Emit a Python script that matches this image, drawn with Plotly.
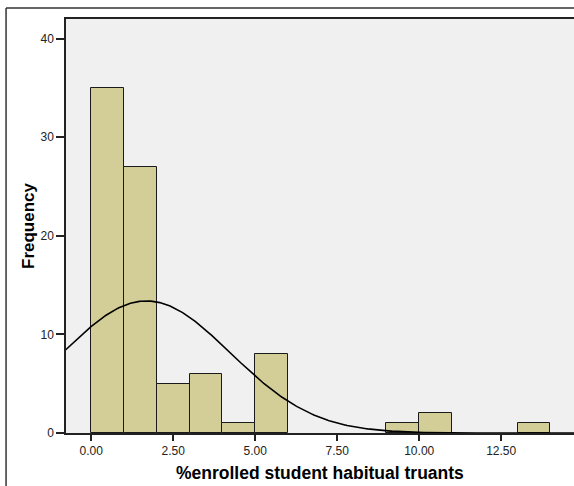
import numpy as np
import plotly.graph_objects as go

# Histogram data (bin width 1)
bin_starts = [0, 1, 2, 3, 4, 5, 9, 10, 13]
counts = [35, 27, 5, 6, 1, 8, 1, 2, 1]
bin_width = 1.0

# Fitted normal curve parameters (as reported by the chart)
curve_mean = 1.68
curve_sd = 2.56
n_total = sum(counts)

x_tick_vals = [0, 2.5, 5, 7.5, 10, 12.5]
x_tick_text = ["0.00", "2.50", "5.00", "7.50", "10.00", "12.50"]
y_tick_vals = [0, 10, 20, 30, 40]

x_title = "%enrolled student habitual truants"
y_title = "Frequency"

bar_x = [s + bin_width / 2 for s in bin_starts]

cx = np.linspace(-0.8, 14.8, 400)
cy = n_total * bin_width / (curve_sd * np.sqrt(2 * np.pi)) * np.exp(-((cx - curve_mean) ** 2) / (2 * curve_sd ** 2))

fig = go.Figure()
fig.add_trace(go.Bar(
    x=bar_x, y=counts, width=bin_width,
    marker=dict(color="#D3CE98", line=dict(color="#1a1a1a", width=1)),
    hoverinfo="x+y",
))
fig.add_trace(go.Scatter(
    x=cx, y=cy, mode="lines",
    line=dict(color="black", width=1.6),
))

font_family = "Liberation Sans, Arial, sans-serif"

fig.update_layout(
    width=574, height=486,
    margin=dict(l=66, r=0, t=19, b=53),
    paper_bgcolor="white",
    plot_bgcolor="#F0F0F0",
    showlegend=False,
    bargap=0,
    font=dict(family=font_family, size=12, color="#222"),
    xaxis=dict(
        range=[-0.77, 14.72],
        tickvals=x_tick_vals, ticktext=x_tick_text,
        ticks="outside", ticklen=6, tickwidth=1.5, tickcolor="#222",
        showgrid=False, zeroline=False,
        showline=True, linecolor="#222", linewidth=1.5, mirror=True,
        tickfont=dict(size=12, color="#222"),
    ),
    yaxis=dict(
        range=[0, 42],
        tickvals=y_tick_vals,
        ticks="outside", ticklen=8, tickwidth=1.5, tickcolor="#222",
        showgrid=False, zeroline=False,
        showline=True, linecolor="#222", linewidth=1.5, mirror=False,
        tickfont=dict(size=12, color="#222"),
    ),
    annotations=[
        dict(text="<b>" + x_title + "</b>", xref="paper", yref="paper",
             x=0.5, y=-0.0966, xanchor="center", yanchor="middle", showarrow=False,
             font=dict(size=17.5, color="black", family=font_family)),
        dict(text="<b>" + y_title + "</b>", xref="paper", yref="paper",
             x=-0.0748, y=0.5, xanchor="center", yanchor="middle", showarrow=False,
             textangle=-90,
             font=dict(size=17, color="black", family=font_family)),
    ],
    shapes=[
        dict(type="line", xref="paper", yref="paper",
             x0=-0.118, x1=1.2, y0=1.0266, y1=1.0266,
             line=dict(color="#333", width=1.5)),
        dict(type="line", xref="paper", yref="paper",
             x0=-0.118, x1=-0.118, y0=1.0266, y1=-0.3,
             line=dict(color="#333", width=1.5)),
    ],
)

fig.write_html(
    "out.html",
    config={"displayModeBar": False},
    post_script="document.body.style.margin='0';document.body.style.overflow='hidden';",
)
